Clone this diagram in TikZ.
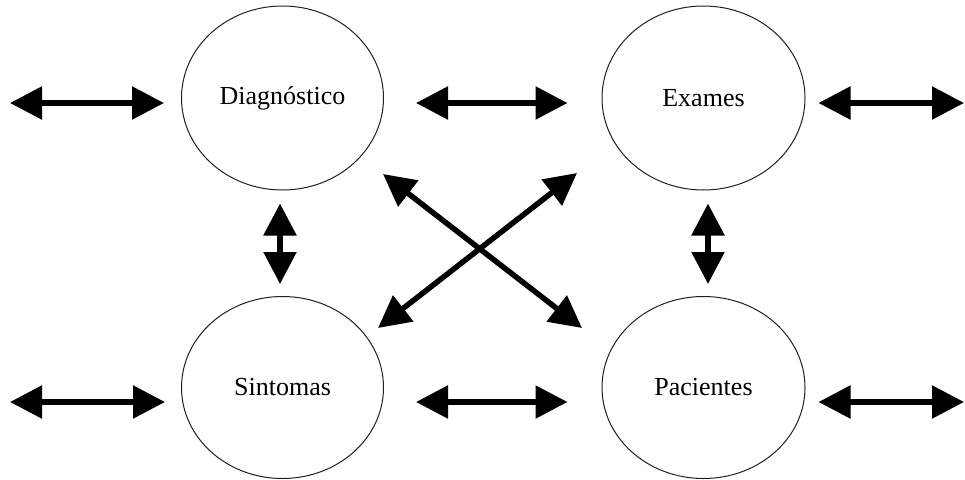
\documentclass[tikz,border=0pt]{standalone}
\usepackage{fontspec}
\setmainfont{Liberation Serif}
\usepackage{xcolor}
\usepackage{tikz}
\usetikzlibrary{shapes.geometric, arrows.meta, positioning, calc}
\definecolor{mdInk}{HTML}{000000}
\definecolor{mdRim}{HTML}{202020}
\tikzset{
  mdent/.style={draw=mdRim, fill=white, ellipse, line width=1pt, inner sep=0pt,
                minimum width=202pt, minimum height=184pt,
                font=\fontsize{26}{30}\selectfont},
  mdrel/.style={draw=mdInk, line width=5.5pt,
                {Triangle[length=32pt,width=32pt]}-{Triangle[length=32pt,width=32pt]}},
}

\begin{document}
\begin{tikzpicture}[x=1pt, y=-1pt]
\useasboundingbox (0,0) rectangle (965,479);
\node[mdent] (diag) at (282.5,98) {Diagnóstico};
\node[mdent, minimum width=203pt] (exam) at (703.5,98) {Exames};
\node[mdent, minimum height=182pt] (sint) at (282.5,387.5) {Sintomas};
\node[mdent, minimum width=203pt, minimum height=182pt] (pac) at (703.5,387.5) {Pacientes};

\coordinate (diagL) at (10,103);
\coordinate (examR) at (964,103);
\coordinate (sintL) at (10,402);
\coordinate (pacR) at (964,402);
\coordinate (crossNW) at (383,174);
\coordinate (crossSE) at (582,328);
\coordinate (crossNE) at (577,173);
\coordinate (crossSW) at (378,328);

\draw[mdrel, shorten >=17pt] (diagL) -- ([yshift=-5pt]diag.west);
\draw[mdrel, shorten <=32pt, shorten >=34pt] ([yshift=-5pt]diag.east) -- ([yshift=-5pt]exam.west);
\draw[mdrel, shorten <=13pt] ([yshift=-5pt]exam.east) -- (examR);
\draw[mdrel, shorten >=16pt] (sintL) -- ([yshift=-14.5pt]sint.west);
\draw[mdrel, shorten <=32pt, shorten >=34pt] ([yshift=-14.5pt]sint.east) -- ([yshift=-14.5pt]pac.west);
\draw[mdrel, shorten <=13pt] ([yshift=-14.5pt]pac.east) -- (pacR);
\draw[mdrel, shorten <=13pt, shorten >=12pt] ([xshift=-2.5pt]diag.south) -- ([xshift=-2.5pt]sint.north);
\draw[mdrel, shorten <=13pt, shorten >=12pt] ([xshift=4.5pt]exam.south) -- ([xshift=4.5pt]pac.north);
\draw[mdrel] (crossNW) -- (crossSE);
\draw[mdrel] (crossNE) -- (crossSW);
\end{tikzpicture}
\end{document}
